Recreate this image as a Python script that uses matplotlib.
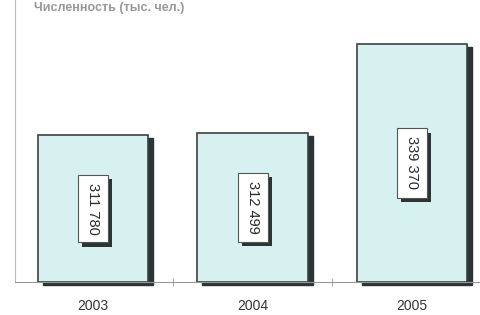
import matplotlib.pyplot as plt
import matplotlib.transforms as mtransforms
import matplotlib.patheffects as pe

years = ['2003', '2004', '2005']
values = [311780, 312499, 339370]
labels = ['311 780', '312 499', '339 370']

plt.rcParams['font.family'] = ['Liberation Sans', 'DejaVu Sans']

fig = plt.figure(figsize=(4.8, 3.15), dpi=100)
ax = fig.add_axes([15 / 480, 33 / 315, 465 / 480, 282 / 315])

base = 267200
x = list(range(len(years)))
heights = [v - base for v in values]

# shadow behind each bar
shadow = mtransforms.offset_copy(ax.transData, fig=fig, x=5, y=-3, units='dots')
ax.bar(x, heights, bottom=base, width=0.69, color='#2b3535', edgecolor='#2b3535',
       transform=shadow, clip_on=False, zorder=2)
ax.bar(x, heights, bottom=base, width=0.69, color='#d7f1f1', edgecolor='#3a4242',
       linewidth=1.2, zorder=3)

for xi, v, lab in zip(x, values, labels):
    ym = (base + v) / 2
    t = ax.text(xi, ym, lab, rotation=270, ha='center', va='center', fontsize=10.5,
                color='#2a2a2a', zorder=5,
                bbox=dict(boxstyle='square,pad=0.55', fc='white', ec='#555555', lw=0.8))
    t.get_bbox_patch().set_path_effects([
        pe.SimplePatchShadow(offset=(3, -3), shadow_rgbFace='#2b3535', alpha=1.0),
        pe.Normal()])

ax.set_xlim(-0.489, 2.426)
ax.set_ylim(base, 352700)
ax.set_xticks(x)
ax.set_xticklabels(years, fontsize=10, color='#333333')
ax.tick_params(axis='x', length=0, pad=12)
ax.set_xticks([0.5, 1.5], minor=True)
ax.tick_params(axis='x', which='minor', length=6, direction='inout', color='#999999')
ax.set_yticks([])
for s in ['top', 'right']:
    ax.spines[s].set_visible(False)
ax.spines['left'].set_color('#bbbbbb')
ax.spines['bottom'].set_color('#999999')

fig.text(0.07, 0.995, 'Численность (тыс. чел.)', fontsize=9, fontweight='bold',
         color='#999999', va='top', ha='left')

fig.savefig('out.png', dpi=100, facecolor='white')
